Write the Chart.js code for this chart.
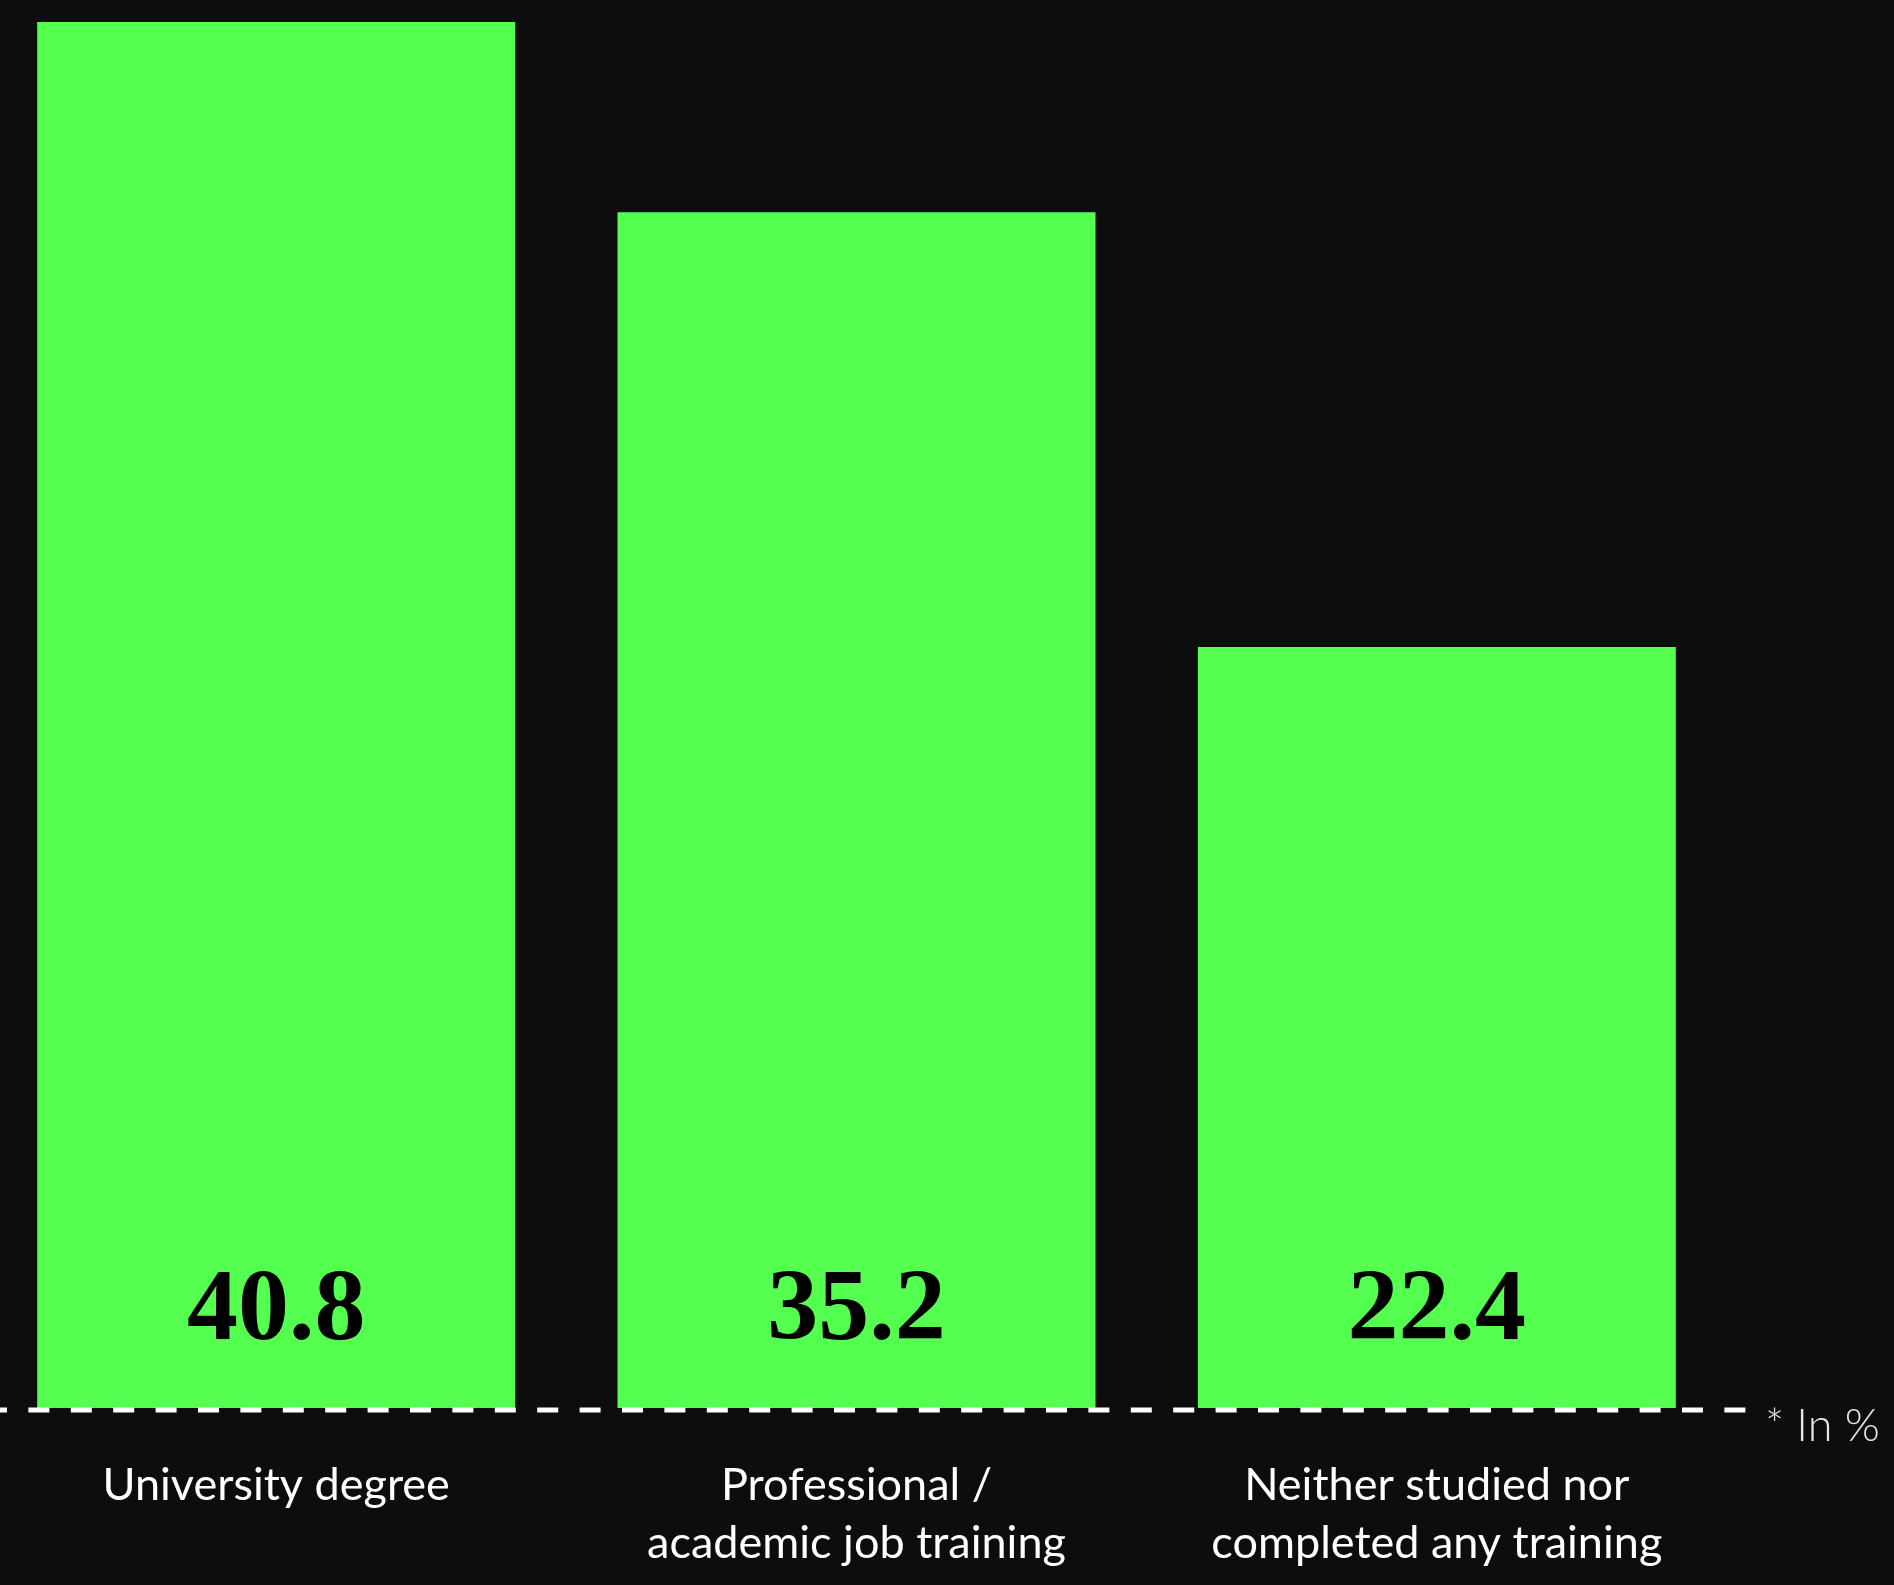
<!DOCTYPE html>
<html>
<head>
<meta charset="utf-8">
<script src="https://cdn.jsdelivr.net/npm/chart.js@4/dist/chart.umd.min.js"></script>
<style>
  html, body { margin: 0; padding: 0; background: #0d0d0d; overflow: hidden; }
  #wrap { position: relative; width: 1894px; height: 1585px; overflow: hidden; }
  #myChart { position: absolute; left: -14px; top: 0; }
</style>
</head>
<body>
<div id="wrap">
  <canvas id="myChart" width="1908" height="1585"></canvas>
</div>
<script>
// data
const categories = [
  ['University degree'],
  ['Professional /', 'academic job training'],
  ['Neither studied nor', 'completed any training']
];
const shares = [40.8, 35.2, 22.4];
const unitNote = '* In %';

//--Style--//
const GREEN = '#55ff4f';
const BG = '#0d0d0d';

// dashed baseline, values inside bars and the unit note
const extras = {
  id: 'extras',
  afterDatasetsDraw(chart) {
    const ctx = chart.ctx;
    const area = chart.chartArea;
    const yBase = chart.scales.y.getPixelForValue(0);

    ctx.save();
    ctx.strokeStyle = '#ffffff';
    ctx.lineWidth = 5;
    ctx.setLineDash([21, 21.4]);
    ctx.beginPath();
    ctx.moveTo(area.left, yBase + 2);
    ctx.lineTo(area.right + 19, yBase + 2);
    ctx.stroke();
    ctx.setLineDash([]);

    ctx.fillStyle = '#000000';
    ctx.font = "bold 102px 'Liberation Serif', serif";
    ctx.textAlign = 'center';
    ctx.textBaseline = 'alphabetic';
    chart.getDatasetMeta(0).data.forEach((bar, i) => {
      ctx.fillText(shares[i].toFixed(1), bar.x, yBase - 69);
    });

    ctx.fillStyle = '#e6e6e6';
    ctx.font = "300 45px Lato, sans-serif";
    ctx.textAlign = 'left';
    ctx.fillText(unitNote, area.right + 38, yBase + 33);
    ctx.restore();
  }
};

new Chart(document.getElementById('myChart').getContext('2d'), {
  type: 'bar',
  data: {
    labels: categories,
    datasets: [{
      data: shares,
      backgroundColor: GREEN,
      borderWidth: 0,
      categoryPercentage: 1,
      barPercentage: 0.8236
    }]
  },
  options: {
    responsive: false,
    animation: false,
    devicePixelRatio: 1,
    layout: { padding: { left: 0, right: 167, top: 0, bottom: 0 } },
    plugins: { legend: { display: false }, tooltip: { enabled: false } },
    scales: {
      x: {
        grid: { display: false, drawTicks: false },
        border: { display: false },
        ticks: {
          color: '#ffffff',
          font: { family: 'Lato, sans-serif', size: 45, lineHeight: 1.3 },
          padding: 48,
          maxRotation: 0,
          autoSkip: false
        },
        afterFit(scale) { scale.height = 177; }
      },
      y: {
        display: false,
        min: 0,
        max: 41.45
      }
    }
  },
  plugins: [{
    id: 'bg',
    beforeDraw(chart) {
      const c = chart.ctx;
      c.save();
      c.fillStyle = BG;
      c.fillRect(0, 0, chart.width, chart.height);
      c.restore();
    }
  }, extras]
});
</script>
</body>
</html>
